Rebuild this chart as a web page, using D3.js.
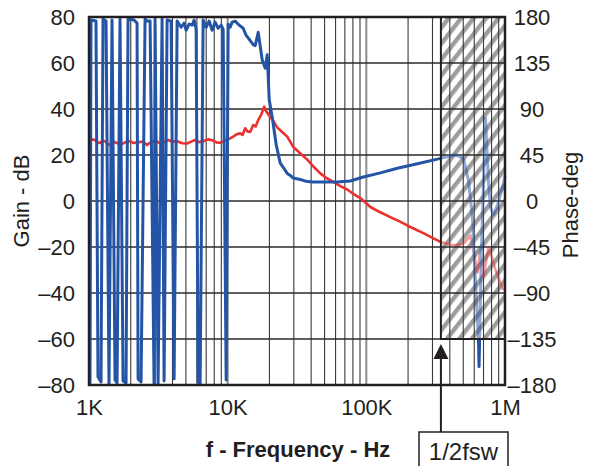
<!DOCTYPE html>
<html>
<head>
<meta charset="utf-8">
<script src="https://cdn.jsdelivr.net/npm/d3@7/dist/d3.min.js"></script>
<style>
  body { margin: 0; background: #fff; }
  text { font-family: "Liberation Sans", Arial, sans-serif; fill: #231f20; }
</style>
</head>
<body>
<svg id="chart" width="589" height="466"></svg>
<script>
// gain curve (red), frequency in Hz and gain in dB
let gainFreq = [
  1000,1050,1105,1150,1200,1250,1305,1360,1418,1480,
  1540,1650,1760,1870,1977,2100,2258,2440,2623,2730,
  2850,3050,3256,3480,3719,4000,4319,4700,5101,5450,
  5826,6200,6655,7200,7859,8300,8829,9400,9917,10400,
  10957,11600,12309,12800,13380,13900,14540,15280,15900,16610,
  17460,18340,19200,20270,21500,22770,24700,26890,29710,33000,
  37500,41500,46550,51500,57780,65000,72920,81000,90500,106900,
  125000,149000,175000,207800,257900,300000,342200,404200,450000,501600,
  563700,592400,633100,665500,699600,760200,810000,854200,959300,1000000
];
let gainDb = [
  26,26.8,26.5,25.5,25.2,26.2,26,25,24.3,25.4,
  25.6,24.8,25,25.8,26,25.2,25.5,25.9,24.3,25.2,
  25.6,26.1,25,25.6,26.5,25.8,26,25.1,25,25.8,
  26.5,25.6,26,26.8,26.3,25.5,25.3,26,26.8,27.2,
  28,29,29.4,28.7,31.6,30.2,30,33,32.4,35.2,
  37.6,41,38.5,36.5,34.5,32,30,28,23.5,21,
  18,15,12,10,8.3,6.5,5,3,1.3,-2.6,
  -4.8,-7,-9,-11.3,-14,-16,-17.8,-19,-19.2,-18.5,
  -15,-22,-31,-21,-33,-20,-25,-30,-38,-38.7
];

// phase curve (blue), frequency in Hz and phase in degrees
let phaseFreq = [
  1000,1017,1034,1123,1161,1221,1262,1327,1394,1466,
  1541,1593,1674,1760,1850,1912,2113,2221,2259,2374,
  2537,2623,2757,2946,2995,3149,3366,3479,3658,3909,
  4109,4320,4617,4853,5017,5272,5542,5729,5924,6124,
  6330,6654,6995,7352,7729,8123,8539,8976,9279,9755,
  10083,10423,10777,11330,12106,12937,13600,14540,15280,15798,
  16604,17750,18658,19288,19938,20958,22396,23933,25158,26890,
  28268,29710,33382,37497,41437,50582,61740,76664,95129,126220,
  167430,233400,325600,439000,501000,545000,582000,612000,644000,650000,
  676000,723000,760000,785000,826000,883000,960000,1000000
];
let phaseDeg = [
  -176,-178,177,176,-172,-177,178,176,-179,177,
  -175,-178,178,-176,-178,178,177,174,-174,-177,
  178,176,176,-179,178,-179,178,-176,177,176,
  -174,176,170,174,167,173,172,177,168,-177,
  -179,177,170,176,167,175,169,172,168,-175,
  173,170,175,176,172,169,162,157,153,152,
  165,138,130,143,99,82,55,37,33,27,
  25,22.5,21,19,18.6,18.5,18.6,19.6,23.5,27.5,
  32,36.5,41,45,42,20.5,-15.6,-77,-136,-162,
  -48,81,20,-6,-13.6,-4,13.5,25
];

let gainTicks = [-80,-60,-40,-20,0,20,40,60,80];
let phaseTicks = [-180,-135,-90,-45,0,45,90,135,180];
let freqTicks = [1e3,1e4,1e5,1e6];
let freqLabels = ["1K","10K","100K","1M"];

// half switching frequency band
let hatchFrom = 345000;
let hatchTo = 1000000;
let hatchBottom = -135; // phase
let bandLabel = "1/2fsw";

let svg = d3.select("#chart");
let pLeft = 89, pRight = 505, pTop = 17, pBottom = 385;

let x = d3.scaleLog().domain([1e3,1e6]).range([pLeft,pRight]);
let yG = d3.scaleLinear().domain([-80,80]).range([pBottom,pTop]);
let yP = d3.scaleLinear().domain([-180,180]).range([pBottom,pTop]);

let minus = d => d < 0 ? "\u2013" + (-d) : "" + d;

let defs = svg.append("defs");
let pat = defs.append("pattern")
  .attr("id","hatch")
  .attr("patternUnits","userSpaceOnUse")
  .attr("width",9.8).attr("height",20)
  .attr("patternTransform","rotate(38)");
pat.append("rect").attr("x",0).attr("y",0).attr("width",4.4).attr("height",20).attr("fill","#9d9d9d");

let hx0 = x(hatchFrom), hx1 = x(hatchTo), hy0 = yP(180), hy1 = yP(hatchBottom);

// clip for outside the hatched band
defs.append("clipPath").attr("id","outside")
  .append("path")
  .attr("clip-rule","evenodd")
  .attr("d","M"+pLeft+","+(pTop-3)+"H"+(pRight+3)+"V"+(pBottom+3)+"H"+pLeft+"Z" +
            "M"+hx0+","+hy0+"H"+hx1+"V"+hy1+"H"+hx0+"Z");
defs.append("clipPath").attr("id","inside")
  .append("rect").attr("x",hx0).attr("y",hy0).attr("width",hx1-hx0).attr("height",hy1-hy0);

// hatch fill
svg.append("rect")
  .attr("x",hx0).attr("y",hy0).attr("width",hx1-hx0).attr("height",hy1-hy0)
  .attr("fill","url(#hatch)");

// grid
let grid = svg.append("g");
let minor = [];
for (let dec = 1e3; dec < 1e6; dec *= 10) {
  for (let k = 2; k <= 9; k++) minor.push(dec*k);
}
grid.selectAll(".vminor").data(minor).enter().append("line")
  .attr("x1",d => x(d)).attr("x2",d => x(d))
  .attr("y1",pTop).attr("y2",pBottom)
  .attr("stroke","#3a3a3a").attr("stroke-width",1.1);
grid.selectAll(".vmajor").data([1e4,1e5]).enter().append("line")
  .attr("x1",d => x(d)).attr("x2",d => x(d))
  .attr("y1",pTop).attr("y2",pBottom)
  .attr("stroke","#8c8c8c").attr("stroke-width",2);
grid.selectAll(".hline").data(gainTicks.slice(1,-1)).enter().append("line")
  .attr("x1",pLeft).attr("x2",pRight)
  .attr("y1",d => yG(d)).attr("y2",d => yG(d))
  .attr("stroke","#2a2a2a").attr("stroke-width",1.3);

// curves
let gainData = gainFreq.map((f,i) => [f, gainDb[i]]);
let phaseData = phaseFreq.map((f,i) => [f, phaseDeg[i]]);
let gainLine = d3.line().x(d => x(d[0])).y(d => yG(d[1]));
let phaseLine = d3.line().x(d => x(d[0])).y(d => yP(d[1]));

["outside","inside"].forEach(function(c) {
  let g = svg.append("g").attr("clip-path","url(#"+c+")")
    .attr("opacity", c == "inside" ? 0.5 : 1);
  g.append("path").attr("d",gainLine(gainData))
    .attr("fill","none").attr("stroke","#ec2f2f").attr("stroke-width",2.6)
    .attr("stroke-linejoin","round");
  g.append("path").attr("d",phaseLine(phaseData))
    .attr("fill","none").attr("stroke","#2354a6").attr("stroke-width",3)
    .attr("stroke-linejoin","round");
});

// hatch border
svg.append("rect")
  .attr("x",hx0).attr("y",hy0).attr("width",hx1-hx0).attr("height",hy1-hy0)
  .attr("fill","none").attr("stroke","#231f20").attr("stroke-width",2);

// frame
svg.append("rect")
  .attr("x",pLeft).attr("y",pTop).attr("width",pRight-pLeft).attr("height",pBottom-pTop)
  .attr("fill","none").attr("stroke","#231f20").attr("stroke-width",2.5);

// axes labels
let yAxisL = d3.axisLeft(yG).tickValues(gainTicks).tickFormat(minus).tickSize(0).tickPadding(14);
svg.append("g").attr("transform","translate("+pLeft+",0)").call(yAxisL)
  .call(g => g.select(".domain").remove())
  .selectAll("text").attr("font-size",22).attr("font-family","Liberation Sans, Arial").attr("fill","#231f20");

let yAxisR = d3.axisRight(yP).tickValues(phaseTicks).tickFormat(minus).tickSize(0).tickPadding(27);
svg.append("g").attr("transform","translate("+pRight+",0)").call(yAxisR)
  .call(g => g.select(".domain").remove())
  .selectAll("text").attr("font-size",22).attr("text-anchor","middle")
  .attr("font-family","Liberation Sans, Arial").attr("fill","#231f20");

let xAxis = d3.axisBottom(x).tickValues(freqTicks).tickFormat((d,i) => freqLabels[i]).tickSize(0).tickPadding(14);
svg.append("g").attr("transform","translate(0,"+pBottom+")").call(xAxis)
  .call(g => g.select(".domain").remove())
  .selectAll("text").attr("font-size",22).attr("font-family","Liberation Sans, Arial").attr("fill","#231f20");

svg.append("text").attr("transform","translate(29,201) rotate(-90)")
  .attr("text-anchor","middle").attr("font-size",22).text("Gain - dB");
svg.append("text").attr("transform","translate(578,205) rotate(-90)")
  .attr("text-anchor","middle").attr("font-size",22).text("Phase-deg");
svg.append("text").attr("x",298).attr("y",457)
  .attr("text-anchor","middle").attr("font-size",22).attr("font-weight","bold")
  .text("f - Frequency - Hz");

// 1/2 fsw marker
svg.append("line").attr("x1",hx0).attr("x2",hx0).attr("y1",hy1+14).attr("y2",432)
  .attr("stroke","#231f20").attr("stroke-width",2);
svg.append("path")
  .attr("d","M"+hx0+","+(hy1+5)+"L"+(hx0+7.5)+","+(hy1+20)+"L"+(hx0-7.5)+","+(hy1+20)+"Z")
  .attr("fill","#231f20");
svg.append("rect").attr("x",419).attr("y",432).attr("width",89).attr("height",40)
  .attr("fill","#fff").attr("stroke","#231f20").attr("stroke-width",1.5);
svg.append("text").attr("x",463.5).attr("y",460).attr("text-anchor","middle")
  .attr("font-size",24).text(bandLabel);
</script>
</body>
</html>
